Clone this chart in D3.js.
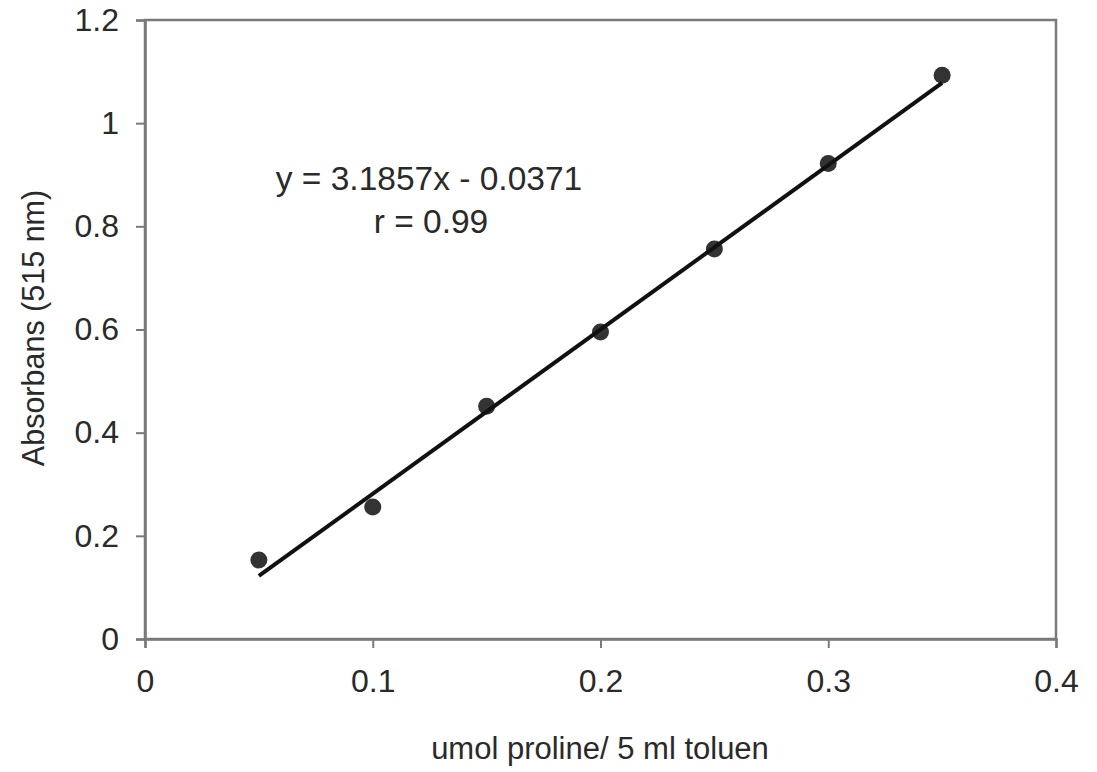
<!DOCTYPE html>
<html>
<head>
<meta charset="utf-8">
<script src="https://cdn.jsdelivr.net/npm/d3@7"></script>
<style>
  body { margin: 0; background: #fff; }
  text { font-family: "Liberation Sans", Arial, sans-serif; }
</style>
</head>
<body>
<div id="chart"></div>
<script>
// measured standards
const proline = [0.05, 0.10, 0.15, 0.20, 0.25, 0.30, 0.35];
const absorbans = [0.153, 0.256, 0.451, 0.595, 0.756, 0.922, 1.093];
// regression from the chart
const slope = 3.1857;
const intercept = -0.0371;
const fitRange = [0.05, 0.35];
const xTicks = [0, 0.1, 0.2, 0.3, 0.4];
const yTicks = [0, 0.2, 0.4, 0.6, 0.8, 1, 1.2];

const width = 1097, height = 772;
const margin = {top: 20, right: 41, bottom: 133, left: 145};

const svg = d3.select("#chart").append("svg")
    .attr("width", width)
    .attr("height", height);

const x = d3.scaleLinear().domain([0, 0.4]).range([margin.left, width - margin.right]);
const y = d3.scaleLinear().domain([0, 1.2]).range([height - margin.bottom, margin.top]);

const axisColor = "#7a7a7a";

// frame
svg.append("rect")
    .attr("x", x(0)).attr("y", y(1.2))
    .attr("width", x(0.4) - x(0)).attr("height", y(0) - y(1.2))
    .attr("fill", "none").attr("stroke", axisColor).attr("stroke-width", 2.5);

const xAxis = svg.append("g")
    .attr("transform", `translate(0,${y(0)})`)
    .call(d3.axisBottom(x).tickValues(xTicks).tickSize(9).tickPadding(21).tickFormat(d => d));
const yAxis = svg.append("g")
    .attr("transform", `translate(${x(0)},0)`)
    .call(d3.axisLeft(y).tickValues(yTicks).tickSize(9).tickPadding(17).tickFormat(d => d));

[xAxis, yAxis].forEach(g => {
    g.select(".domain").attr("stroke", axisColor).attr("stroke-width", 2.5);
    g.selectAll(".tick line").attr("stroke", axisColor).attr("stroke-width", 2);
    g.selectAll(".tick text")
        .attr("fill", "#2a2a2a")
        .attr("font-size", 32);
});

// points
svg.selectAll("circle.pt")
    .data(proline.map((d, i) => [d, absorbans[i]]))
    .enter().append("circle")
    .attr("class", "pt")
    .attr("cx", d => x(d[0]))
    .attr("cy", d => y(d[1]))
    .attr("r", 8.5)
    .attr("fill", "#333");

// trend line
const fit = fitRange.map(v => [v, slope * v + intercept]);
svg.append("path")
    .datum(fit)
    .attr("d", d3.line().x(d => x(d[0])).y(d => y(d[1])))
    .attr("stroke", "#111")
    .attr("stroke-width", 4)
    .attr("fill", "none");

// equation
svg.append("text")
    .attr("x", 429).attr("y", 190)
    .attr("text-anchor", "middle")
    .attr("font-size", 33.5)
    .attr("fill", "#2a2a2a")
    .text("y = 3.1857x - 0.0371");
svg.append("text")
    .attr("x", 431).attr("y", 233)
    .attr("text-anchor", "middle")
    .attr("font-size", 33.5)
    .attr("fill", "#2a2a2a")
    .text("r = 0.99");

// axis titles
svg.append("text")
    .attr("x", 600).attr("y", 759)
    .attr("text-anchor", "middle")
    .attr("font-size", 31)
    .attr("fill", "#2a2a2a")
    .text("umol proline/ 5 ml toluen");
svg.append("text")
    .attr("transform", "translate(44,328) rotate(-90)")
    .attr("text-anchor", "middle")
    .attr("font-size", 30.5)
    .attr("fill", "#2a2a2a")
    .text("Absorbans (515 nm)");
</script>
</body>
</html>
